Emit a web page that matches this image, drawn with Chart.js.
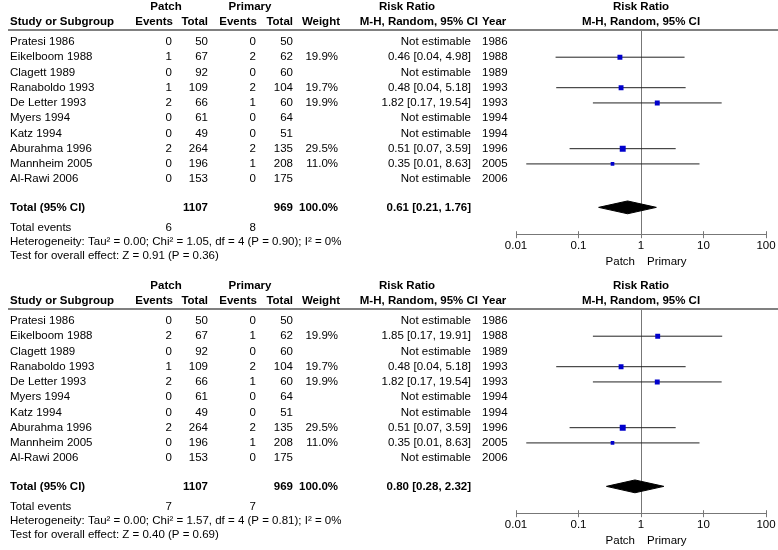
<!DOCTYPE html>
<html>
<head>
<meta charset="utf-8">
<script src="https://cdn.jsdelivr.net/npm/chart.js@4.4.1/dist/chart.umd.min.js"></script>
<style>
  body { margin: 0; background: #fff; overflow: hidden; }
  .panel { position: absolute; left: 0; width: 778px; height: 279px; }
</style>
</head>
<body>
<div class="panel" style="top:0"><canvas id="chartA" width="778" height="279"></canvas></div>
<div class="panel" style="top:279px"><canvas id="chartB" width="778" height="279"></canvas></div>
<script>
// shared study info
var studies = ['Pratesi 1986', 'Eikelboom 1988', 'Clagett 1989', 'Ranaboldo 1993', 'De Letter 1993',
               'Myers 1994', 'Katz 1994', 'Aburahma 1996', 'Mannheim 2005', 'Al-Rawi 2006'];
var years = [1986, 1988, 1989, 1993, 1993, 1994, 1994, 1996, 2005, 2006];
var patchTotal = [50, 67, 92, 109, 66, 61, 49, 264, 196, 153];
var primaryTotal = [50, 62, 60, 104, 60, 64, 51, 135, 208, 175];
var weights = [null, 19.9, null, 19.7, 19.9, null, null, 29.5, 11.0, null];
var tickLabels = ['0.01', '0.1', '1', '10', '100'];

// top analysis
var patchEventsA = [0, 1, 0, 1, 2, 0, 0, 2, 0, 0];
var primaryEventsA = [0, 2, 0, 2, 1, 0, 0, 2, 1, 0];
var rrA = [null, 0.46, null, 0.48, 1.82, null, null, 0.51, 0.35, null];
var lowA = [null, 0.043, null, 0.044, 0.17, null, null, 0.072, 0.0146, null];
var highA = [null, 4.98, null, 5.18, 19.54, null, null, 3.59, 8.63, null];
var pooledA = [0.61, 0.21, 1.76];
var hetA = 'Heterogeneity: Tau² = 0.00; Chi² = 1.05, df = 4 (P = 0.90); I² = 0%';
var testA = 'Test for overall effect: Z = 0.91 (P = 0.36)';

// bottom analysis
var patchEventsB = [0, 2, 0, 1, 2, 0, 0, 2, 0, 0];
var primaryEventsB = [0, 1, 0, 2, 1, 0, 0, 2, 1, 0];
var rrB = [null, 1.85, null, 0.48, 1.82, null, null, 0.51, 0.35, null];
var lowB = [null, 0.17, null, 0.044, 0.17, null, null, 0.072, 0.0146, null];
var highB = [null, 19.91, null, 5.18, 19.54, null, null, 3.59, 8.63, null];
var pooledB = [0.80, 0.28, 2.32];
var hetB = 'Heterogeneity: Tau² = 0.00; Chi² = 1.57, df = 4 (P = 0.81); I² = 0%';
var testB = 'Test for overall effect: Z = 0.40 (P = 0.69)';

var FAMILY = "'Liberation Sans', Arial, sans-serif";
var FSIZE = 11.5;
Chart.defaults.font.family = FAMILY;
Chart.defaults.font.size = FSIZE;

function sum(a) { return a.reduce(function(s, v) { return s + (v || 0); }, 0); }
function f2(v) { return v.toFixed(2); }
function ciText(r, l, h) { return f2(r) + ' [' + f2(l) + ', ' + f2(h) + ']'; }

// rows in y units (study i sits at y = i)
var ROW_TOTAL = 10.85, ROW_EVENTS = 12.16, ROW_HET = 13.14, ROW_TEST = 14.05;
var ROW_HEAD1 = -2.3, ROW_HEAD2 = -1.3;

function tablePlugin(d) {
  return {
    id: 'table',
    afterDraw: function(chart) {
      var c = chart.ctx, y = chart.scales.y, x = chart.scales.x, area = chart.chartArea;
      var x1 = x.getPixelForValue(1);
      c.save();
      c.fillStyle = '#000';
      c.textBaseline = 'middle';
      function txt(s, px, row, align, bold) {
        c.font = (bold ? 'bold ' : '') + FSIZE + 'px ' + FAMILY;
        c.textAlign = align;
        c.fillText(String(s), px, y.getPixelForValue(row));
      }
      // header
      txt('Patch', 166, ROW_HEAD1, 'center', true);
      txt('Primary', 250, ROW_HEAD1, 'center', true);
      txt('Risk Ratio', 407, ROW_HEAD1, 'center', true);
      txt('Risk Ratio', x1, ROW_HEAD1, 'center', true);
      txt('Study or Subgroup', 10, ROW_HEAD2, 'left', true);
      txt('Events', 173, ROW_HEAD2, 'right', true);
      txt('Total', 208, ROW_HEAD2, 'right', true);
      txt('Events', 257, ROW_HEAD2, 'right', true);
      txt('Total', 293, ROW_HEAD2, 'right', true);
      txt('Weight', 340, ROW_HEAD2, 'right', true);
      txt('M-H, Random, 95% CI', 478, ROW_HEAD2, 'right', true);
      txt('Year', 482, ROW_HEAD2, 'left', true);
      txt('M-H, Random, 95% CI', x1, ROW_HEAD2, 'center', true);

      c.strokeStyle = '#808080';
      c.lineWidth = 2;
      c.beginPath();
      c.moveTo(8, area.top);
      c.lineTo(778, area.top);
      c.stroke();

      // tick marks also reach a little above the axis line (same pixel snapping as Chart.js)
      c.strokeStyle = '#777';
      c.lineWidth = 1;
      x.ticks.forEach(function(t) {
        var px = Math.round(x.getPixelForValue(t.value) - 0.5) + 0.5;
        c.beginPath();
        c.moveTo(px, area.bottom - 3);
        c.lineTo(px, area.bottom);
        c.stroke();
      });

      for (var i = 0; i < studies.length; i++) {
        txt(studies[i], 10, i, 'left');
        txt(d.pEv[i], 172, i, 'right');
        txt(patchTotal[i], 208, i, 'right');
        txt(d.qEv[i], 256, i, 'right');
        txt(primaryTotal[i], 293, i, 'right');
        if (weights[i] != null) txt(weights[i].toFixed(1) + '%', 338, i, 'right');
        txt(d.rr[i] != null ? ciText(d.rr[i], d.lo[i], d.hi[i]) : 'Not estimable', 471, i, 'right');
        txt(years[i], 482, i, 'left');
      }

      txt('Total (95% CI)', 10, ROW_TOTAL, 'left', true);
      txt(sum(patchTotal), 208, ROW_TOTAL, 'right', true);
      txt(sum(primaryTotal), 293, ROW_TOTAL, 'right', true);
      txt(sum(weights).toFixed(1) + '%', 338, ROW_TOTAL, 'right', true);
      txt(ciText(d.pooled[0], d.pooled[1], d.pooled[2]), 471, ROW_TOTAL, 'right', true);
      txt('Total events', 10, ROW_EVENTS, 'left');
      txt(sum(d.pEv), 172, ROW_EVENTS, 'right');
      txt(sum(d.qEv), 256, ROW_EVENTS, 'right');
      txt(d.het, 10, ROW_HET, 'left');
      txt(d.test, 10, ROW_TEST, 'left');

      // favours labels under the axis
      c.font = FSIZE + 'px ' + FAMILY;
      c.textAlign = 'right';
      c.fillText('Patch', x1 - 6, x.bottom + 8);
      c.textAlign = 'left';
      c.fillText('Primary', x1 + 6, x.bottom + 8);
      c.restore();
    }
  };
}

function makePanel(id, d) {
  var datasets = [];
  var squares = [], radii = [];
  for (var i = 0; i < studies.length; i++) {
    if (d.rr[i] == null) continue;
    datasets.push({
      data: [{x: d.lo[i], y: i}, {x: d.hi[i], y: i}],
      showLine: true, borderColor: '#222', borderWidth: 1, pointRadius: 0
    });
    squares.push({x: d.rr[i], y: i});
    var side = 1.1 * Math.sqrt(weights[i]);
    radii.push(side / (2 * Math.SQRT1_2));
  }
  datasets.unshift({
    data: squares, pointStyle: 'rect', pointRadius: radii,
    backgroundColor: '#0000cc', borderColor: '#0000cc', borderWidth: 0
  });
  var p = d.pooled;
  datasets.push({
    data: [{x: p[1], y: ROW_TOTAL}, {x: p[0], y: ROW_TOTAL - 0.42}, {x: p[2], y: ROW_TOTAL}],
    showLine: true, borderColor: '#000', borderWidth: 1, pointRadius: 0,
    backgroundColor: '#000', fill: '+1'
  });
  datasets.push({
    data: [{x: p[1], y: ROW_TOTAL}, {x: p[0], y: ROW_TOTAL + 0.42}, {x: p[2], y: ROW_TOTAL}],
    showLine: true, borderColor: '#000', borderWidth: 1, pointRadius: 0, fill: false
  });

  return new Chart(document.getElementById(id).getContext('2d'), {
    type: 'scatter',
    data: {datasets: datasets},
    options: {
      animation: false,
      responsive: false,
      devicePixelRatio: 1,
      layout: {padding: {left: 516, right: 12, top: 30, bottom: 25}},
      plugins: {legend: {display: false}, tooltip: {enabled: false}},
      scales: {
        x: {
          type: 'logarithmic', min: 0.01, max: 100,
          afterBuildTicks: function(s) {
            s.ticks = tickLabels.map(function(t) { return {value: parseFloat(t)}; });
          },
          ticks: {
            autoSkip: false, maxRotation: 0, padding: 1, color: '#000',
            callback: function(v, i) { return tickLabels[i]; }
          },
          grid: {
            drawOnChartArea: true, tickLength: 4, tickColor: '#777', lineWidth: 1,
            color: function(ctx) { return ctx.tick && ctx.tick.value === 1 ? '#777' : 'rgba(0,0,0,0)'; }
          },
          border: {display: true, color: '#777', width: 1}
        },
        y: {type: 'linear', min: -0.784, max: 12.61, reverse: true, display: false}
      }
    },
    plugins: [tablePlugin(d)]
  });
}

makePanel('chartA', {pEv: patchEventsA, qEv: primaryEventsA, rr: rrA, lo: lowA, hi: highA,
                     pooled: pooledA, het: hetA, test: testA});
makePanel('chartB', {pEv: patchEventsB, qEv: primaryEventsB, rr: rrB, lo: lowB, hi: highB,
                     pooled: pooledB, het: hetB, test: testB});
</script>
</body>
</html>
